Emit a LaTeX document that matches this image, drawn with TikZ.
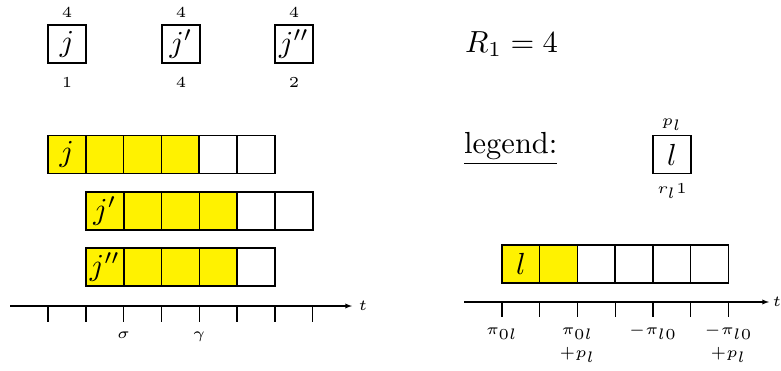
\documentclass[tikz,border=0pt]{standalone}
\usepackage{amsmath}
\usepackage{graphicx}
\usetikzlibrary{positioning}
\definecolor{slotyellow}{RGB}{255,242,0}
\newcommand{\bigt}[1]{\scalebox{3.05}{#1}}
\newcommand{\smt}[1]{\scalebox{3.05}{\begin{tabular}{@{}c@{}}#1\end{tabular}}}

\tikzset{
  slot/.style={draw, line width=1.5pt, minimum width=37.8pt, minimum height=37.8pt,
    inner sep=0pt, outer sep=0pt, font=\fontsize{10}{12}\selectfont},
  lbl/.style={font=\fontsize{5}{7.5}\selectfont, inner sep=0pt},
  big/.style={font=\fontsize{10}{12}\selectfont, inner sep=0pt},
  tick/.style={line width=1.4pt},
}

\begin{document}
\begin{tikzpicture}[x=1pt, y=-1pt]
    \useasboundingbox (0,0) rectangle (781,370);

    % Draw the three jobs with their labels
    \node[slot] (j0) at (67,44) {\bigt{$j$}};
    \node[lbl, above=0.5pt of j0] (j0p) {\smt{4}};
    \node[lbl, below=8pt of j0] (j0r) {\smt{1}};
    \node[slot] (j1) at (181,44) {\bigt{$j'$}};
    \node[lbl, above=0.5pt of j1] (j1p) {\smt{4}};
    \node[lbl, below=8pt of j1] (j1r) {\smt{4}};
    \node[slot] (j2) at (294,44) {\bigt{$j''$}};
    \node[lbl, above=0.5pt of j2] (j2p) {\smt{4}};
    \node[lbl, below=8pt of j2] (j2r) {\smt{2}};

    % Draw the rows of slots
    \foreach \i/\fc in {1/slotyellow,2/slotyellow,3/slotyellow,4/slotyellow,5/white,6/white}
      \node[slot, fill=\fc] (ra\i) at (48+37.8*\i-18.9,154.5) {\ifnum\i=1 \bigt{$j$}\fi};
    \foreach \i/\fc in {1/slotyellow,2/slotyellow,3/slotyellow,4/slotyellow,5/white,6/white}
      \node[slot, fill=\fc] (rb\i) at (86+37.8*\i-18.9,211) {\ifnum\i=1 \bigt{$j'$}\fi};
    \foreach \i/\fc in {1/slotyellow,2/slotyellow,3/slotyellow,4/slotyellow,5/white}
      \node[slot, fill=\fc] (rc\i) at (86+37.8*\i-18.9,267) {\ifnum\i=1 \bigt{$j''$}\fi};

    % Draw left time axis
    \coordinate (la0) at (10,306);
    \coordinate (la1) at (352,306);
    \draw[-latex, line width=1.3pt] (la0) -- (la1) node[lbl, right=6pt] (lt) {\smt{$t$}};
    \foreach \k in {0,...,7}
      \draw[tick] (48+37.8*\k,306) -- (48+37.8*\k,322) coordinate (lk\k);
    \node[lbl, below=0pt of lk2] (sig) {\smt{$\sigma$}};
    \node[lbl, below=0pt of lk4] (gam) {\smt{$\gamma$}};

    % Draw right part
    \node[big, anchor=base west] (cap) at (465,52) {\bigt{$R_1 = 4$}};
    \node[big, anchor=base west] (leg) at (464,153) {\bigt{\underline{legend:}}};
    \node[slot] (lgd) at (672,154.5) {\bigt{$l$}};
    \node[lbl, above=3pt of lgd] (lgdp) {\smt{$p_l$}};
    \node[lbl, below=4pt of lgd] (lgdr) {\smt{$r_l1$}};

    \foreach \i/\fc in {1/slotyellow,2/slotyellow,3/white,4/white,5/white,6/white}
      \node[slot, fill=\fc] (rl\i) at (502+37.75*\i-18.875,264) {\ifnum\i=1 \bigt{$l$}\fi};

    % Draw right time axis
    \coordinate (ra0) at (464,302);
    \coordinate (ra1) at (769,302);
    \draw[-latex, line width=1.3pt] (ra0) -- (ra1) node[lbl, right=3pt] (rt) {\smt{$t$}};
    \foreach \k in {0,...,6}
      \draw[tick] (502+37.75*\k,302) -- (502+37.75*\k,317) coordinate (rk\k);
    \node[lbl, below=1pt of rk0] (pa) {\smt{$\pi_{0l}$}};
    \node[lbl, below=1pt of rk2] (pb) {\smt{$\pi_{0l}$\\$+p_l$}};
    \node[lbl, below=1pt of rk4] (pc) {\smt{$-\pi_{l0}$}};
    \node[lbl, below=1pt of rk6] (pd) {\smt{$-\pi_{l0}$\\$+p_l$}};

  \end{tikzpicture}
\end{document}
